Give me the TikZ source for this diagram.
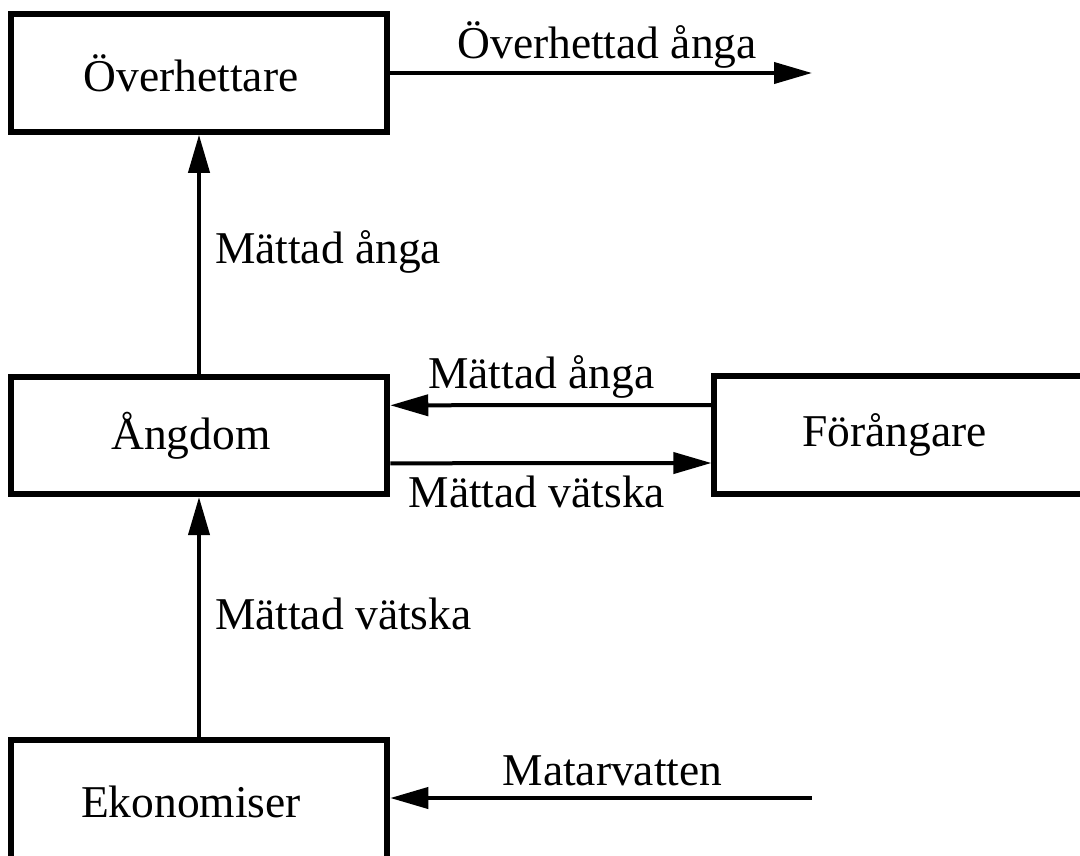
\documentclass[tikz,border=0pt]{standalone}
\usepackage{fontspec}
\setmainfont{Liberation Serif}
\usetikzlibrary{arrows.meta}
\begin{document}
\begin{tikzpicture}[x=1pt,y=-1pt,
  every node/.style={font=\fontsize{45.5}{54}\selectfont},
  block/.style={draw, line width=6pt, rectangle, minimum width=376.5pt,
    minimum height=117.5pt, inner sep=0pt,
    execute at begin node={\hspace*{-16pt}}},
  flow/.style={line width=4pt, -{Triangle[length=38pt,width=21pt]}},
  lbl/.style={inner sep=0pt, anchor=base},
  sidelbl/.style={inner sep=0pt, anchor=base west}]
\useasboundingbox (0,0) rectangle (1080,855);

% components of the boiler
\node[block] (ov)  at (199,73)    {Överhettare};
\node[block] (ang) at (199,435.3) {Ångdom};
\node[block] (fo)  at (902.7,435) {Förångare};
\node[block, minimum height=125pt] (ek) at (199,802) {Ekonomiser};

% free ends of the inlet and outlet
\coordinate (steamout) at (812,73);
\coordinate (feedin)   at (811.7,798);

% flows
\draw[flow] (ov.east) -- (steamout)
  node[lbl, midway, xshift=6pt, yshift=14.5pt] {Överhettad ånga};
\draw[flow] (ang.north) -- (ov.south)
  node[sidelbl, midway, xshift=14pt, yshift=-9pt] {Mättad ånga};
\draw[flow] ([yshift=30pt]fo.west) -- ([yshift=30pt]ang.east)
  node[lbl, midway, xshift=-9.5pt, yshift=17pt] {Mättad ånga};
\draw[flow] ([yshift=-28pt]ang.east) -- ([yshift=-28pt]fo.west)
  node[lbl, midway, xshift=-14pt, yshift=-44pt] {Mättad vätska};
\draw[flow] (ek.north) -- (ang.south)
  node[sidelbl, midway, xshift=14pt, yshift=-13pt] {Mättad vätska};
\draw[flow] (feedin) -- ([yshift=4pt]ek.east)
  node[lbl, midway, xshift=11.5pt, yshift=12.7pt] {Matarvatten};
\end{tikzpicture}
\end{document}
